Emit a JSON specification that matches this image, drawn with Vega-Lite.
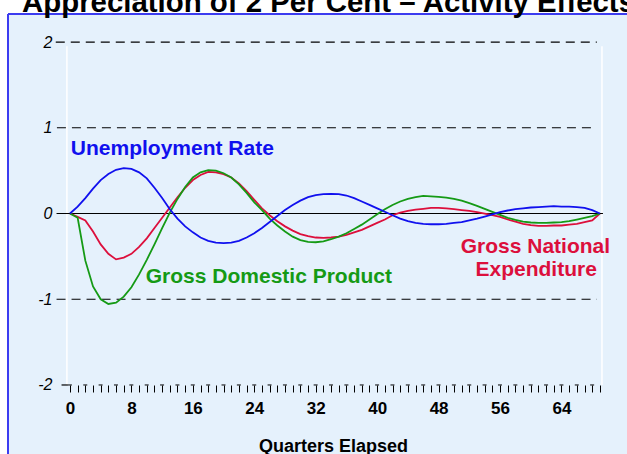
{
  "$schema": "https://vega.github.io/schema/vega-lite/v6.json",
  "width": 619,
  "height": 440,
  "autosize": {"type": "none"},
  "padding": {"left": 8, "top": 14, "right": 0, "bottom": 0},
  "background": "white",
  "config": {
    "font": "Liberation Sans",
    "view": {"fill": "#e5f1fc", "stroke": "#3c3cf0", "strokeWidth": 2, "strokeDash": [619, 1059, 440, 0]}
  },
  "title": {
    "text": "Appreciation of 2 Per Cent – Activity Effects",
    "anchor": "start",
    "frame": "group",
    "font": "Liberation Sans",
    "fontSize": 29.4,
    "fontWeight": "bold",
    "color": "black",
    "baseline": "alphabetic",
    "offset": -27,
    "dx": 14
  },
  "datasets": {
    "series": [
      {"q": 0, "u": 0, "gdp": 0, "gne": 0},
      {"q": 1, "u": 0.08, "gdp": -0.05, "gne": -0.04},
      {"q": 2, "u": 0.18, "gdp": -0.55, "gne": -0.08},
      {"q": 3, "u": 0.29, "gdp": -0.85, "gne": -0.21},
      {"q": 4, "u": 0.39, "gdp": -1.0, "gne": -0.36},
      {"q": 5, "u": 0.46, "gdp": -1.055, "gne": -0.47},
      {"q": 6, "u": 0.51, "gdp": -1.04, "gne": -0.535},
      {"q": 7, "u": 0.53, "gdp": -0.97, "gne": -0.515},
      {"q": 8, "u": 0.52, "gdp": -0.86, "gne": -0.47},
      {"q": 9, "u": 0.48, "gdp": -0.71, "gne": -0.39},
      {"q": 10, "u": 0.41, "gdp": -0.54, "gne": -0.29},
      {"q": 11, "u": 0.3, "gdp": -0.36, "gne": -0.17},
      {"q": 12, "u": 0.18, "gdp": -0.17, "gne": -0.05},
      {"q": 13, "u": 0.05, "gdp": 0.01, "gne": 0.07},
      {"q": 14, "u": -0.06, "gdp": 0.17, "gne": 0.19},
      {"q": 15, "u": -0.15, "gdp": 0.31, "gne": 0.3},
      {"q": 16, "u": -0.22, "gdp": 0.42, "gne": 0.39},
      {"q": 17, "u": -0.28, "gdp": 0.48, "gne": 0.45},
      {"q": 18, "u": -0.32, "gdp": 0.505, "gne": 0.485},
      {"q": 19, "u": -0.34, "gdp": 0.5, "gne": 0.48},
      {"q": 20, "u": -0.345, "gdp": 0.47, "gne": 0.46},
      {"q": 21, "u": -0.34, "gdp": 0.42, "gne": 0.42},
      {"q": 22, "u": -0.32, "gdp": 0.34, "gne": 0.35},
      {"q": 23, "u": -0.28, "gdp": 0.24, "gne": 0.26},
      {"q": 24, "u": -0.23, "gdp": 0.13, "gne": 0.16},
      {"q": 25, "u": -0.17, "gdp": 0.04, "gne": 0.06},
      {"q": 26, "u": -0.1, "gdp": -0.06, "gne": -0.02},
      {"q": 27, "u": -0.03, "gdp": -0.14, "gne": -0.09},
      {"q": 28, "u": 0.04, "gdp": -0.21, "gne": -0.15},
      {"q": 29, "u": 0.1, "gdp": -0.27, "gne": -0.2},
      {"q": 30, "u": 0.15, "gdp": -0.31, "gne": -0.24},
      {"q": 31, "u": 0.19, "gdp": -0.33, "gne": -0.265},
      {"q": 32, "u": 0.215, "gdp": -0.335, "gne": -0.28},
      {"q": 33, "u": 0.225, "gdp": -0.325, "gne": -0.285},
      {"q": 34, "u": 0.23, "gdp": -0.3, "gne": -0.28},
      {"q": 35, "u": 0.225, "gdp": -0.27, "gne": -0.27},
      {"q": 36, "u": 0.21, "gdp": -0.23, "gne": -0.25},
      {"q": 37, "u": 0.18, "gdp": -0.18, "gne": -0.22},
      {"q": 38, "u": 0.14, "gdp": -0.13, "gne": -0.19},
      {"q": 39, "u": 0.1, "gdp": -0.07, "gne": -0.15},
      {"q": 40, "u": 0.06, "gdp": -0.01, "gne": -0.11},
      {"q": 41, "u": 0.02, "gdp": 0.05, "gne": -0.07},
      {"q": 42, "u": -0.02, "gdp": 0.1, "gne": -0.02},
      {"q": 43, "u": -0.06, "gdp": 0.14, "gne": 0.01},
      {"q": 44, "u": -0.09, "gdp": 0.17, "gne": 0.03},
      {"q": 45, "u": -0.11, "gdp": 0.19, "gne": 0.045},
      {"q": 46, "u": -0.12, "gdp": 0.205, "gne": 0.055},
      {"q": 47, "u": -0.125, "gdp": 0.2, "gne": 0.065},
      {"q": 48, "u": -0.125, "gdp": 0.195, "gne": 0.065},
      {"q": 49, "u": -0.12, "gdp": 0.185, "gne": 0.06},
      {"q": 50, "u": -0.11, "gdp": 0.17, "gne": 0.05},
      {"q": 51, "u": -0.1, "gdp": 0.15, "gne": 0.04},
      {"q": 52, "u": -0.08, "gdp": 0.12, "gne": 0.03},
      {"q": 53, "u": -0.06, "gdp": 0.09, "gne": 0.015},
      {"q": 54, "u": -0.035, "gdp": 0.055, "gne": 0.0},
      {"q": 55, "u": -0.01, "gdp": 0.02, "gne": -0.02},
      {"q": 56, "u": 0.015, "gdp": -0.015, "gne": -0.04},
      {"q": 57, "u": 0.035, "gdp": -0.05, "gne": -0.07},
      {"q": 58, "u": 0.05, "gdp": -0.075, "gne": -0.095},
      {"q": 59, "u": 0.06, "gdp": -0.095, "gne": -0.12},
      {"q": 60, "u": 0.07, "gdp": -0.105, "gne": -0.135},
      {"q": 61, "u": 0.075, "gdp": -0.11, "gne": -0.145},
      {"q": 62, "u": 0.08, "gdp": -0.11, "gne": -0.145},
      {"q": 63, "u": 0.085, "gdp": -0.105, "gne": -0.14},
      {"q": 64, "u": 0.08, "gdp": -0.1, "gne": -0.14},
      {"q": 65, "u": 0.08, "gdp": -0.09, "gne": -0.13},
      {"q": 66, "u": 0.075, "gdp": -0.07, "gne": -0.12},
      {"q": 67, "u": 0.065, "gdp": -0.05, "gne": -0.1},
      {"q": 68, "u": 0.04, "gdp": -0.03, "gne": -0.08},
      {"q": 69, "u": 0, "gdp": 0, "gne": 0}
    ],
    "grid": [
      {"v": 2, "q": -1.85, "qe": 68.6},
      {"v": 1, "q": -1.7, "qe": 68.6},
      {"v": -1, "q": -1.75, "qe": 68.6}
    ],
    "solid": [
      {"v": 0, "q": -1.75, "qe": 69.4},
      {"v": -2, "q": -1.1, "qe": -0.27}
    ],
    "bars": [
      {"v": -2, "q": -0.27, "qe": 69.3}
    ],
    "frame": [
      {"q": -0.4, "v": -2, "ve": 1.95},
      {"q": 69.27, "v": -2, "ve": 1.95}
    ],
    "labels": [
      {"text": "Unemployment Rate", "q": 13.33, "v": 0.752, "series": "u"},
      {"text": "Gross Domestic Product", "q": 25.9, "v": -0.74, "series": "gdp"},
      {"text": "Gross National", "q": 60.6, "v": -0.39, "series": "gne"},
      {"text": "Expenditure", "q": 60.7, "v": -0.66, "series": "gne"}
    ]
  },
  "encoding": {
    "x": {
      "field": "q",
      "type": "quantitative",
      "scale": {"domain": [-8.07, 72.53], "nice": false, "zero": false},
      "axis": {
        "values": [0,1,2,3,4,5,6,7,8,9,10,11,12,13,14,15,16,17,18,19,20,21,22,23,24,25,26,27,28,29,30,31,32,33,34,35,36,37,38,39,40,41,42,43,44,45,46,47,48,49,50,51,52,53,54,55,56,57,58,59,60,61,62,63,64,65,66,67,68,69],
        "labelExpr": "datum.value % 8 === 0 ? datum.label : ''",
        "labelOverlap": false,
        "labelFlush": false,
        "offset": -69,
        "grid": false,
        "domain": false,
        "tickSize": 7,
        "tickColor": "black",
        "tickWidth": 1,
        "labelFont": "Liberation Sans",
        "labelFontSize": 17,
        "labelFontWeight": "bold",
        "labelColor": "black",
        "labelPadding": 8,
        "title": "Quarters Elapsed",
        "titleFont": "Liberation Sans",
        "titleFontSize": 18,
        "titleFontWeight": "bold",
        "titleColor": "black",
        "titleX": 325,
        "titleY": 66,
        "titleBaseline": "alphabetic",
        "titleAlign": "center",
        "titleAnchor": null
      }
    },
    "y": {
      "field": "v",
      "type": "quantitative",
      "scale": {"domain": [-2.805, 2.327], "nice": false, "zero": false},
      "axis": {
        "values": [-2, -1, 0, 1, 2],
        "labelExpr": "datum.value < 0 ? '-' + abs(datum.value) : '' + datum.value",
        "grid": false,
        "ticks": false,
        "domain": false,
        "labelPadding": -44,
        "labelAlign": "right",
        "labelFont": "Liberation Sans",
        "labelFontSize": 16,
        "labelFontStyle": "italic",
        "labelColor": "black",
        "labelFlush": false,
        "title": null
      }
    }
  },
  "layer": [
    {
      "data": {"name": "grid"},
      "mark": {"type": "rule", "color": "black", "strokeWidth": 1.2, "strokeDash": [9, 6]},
      "encoding": {"x2": {"field": "qe"}}
    },
    {
      "data": {"name": "frame"},
      "mark": {"type": "rule", "color": "white", "strokeWidth": 1.5},
      "encoding": {"y2": {"field": "ve"}}
    },
    {
      "data": {"name": "solid"},
      "mark": {"type": "rule", "color": "black", "strokeWidth": 1.2},
      "encoding": {"x2": {"field": "qe"}}
    },
    {
      "data": {"name": "bars"},
      "mark": {"type": "rule", "color": "black", "strokeWidth": 1, "strokeDash": [4, 11.36]},
      "encoding": {"x2": {"field": "qe"}}
    },
    {
      "data": {"name": "series"},
      "transform": [{"fold": ["gne", "gdp", "u"], "as": ["series", "v"]}],
      "mark": {"type": "line", "strokeWidth": 1.8},
      "encoding": {
        "color": {
          "field": "series",
          "type": "nominal",
          "scale": {"domain": ["gne", "gdp", "u"], "range": ["#dc0f3c", "#159a15", "#1010ee"]},
          "legend": null
        }
      }
    },
    {
      "data": {"name": "labels"},
      "mark": {"type": "text", "font": "Liberation Sans", "fontSize": 21, "fontWeight": "bold", "align": "center", "baseline": "middle"},
      "encoding": {
        "text": {"field": "text"},
        "color": {"field": "series", "type": "nominal", "legend": null}
      }
    }
  ]
}
